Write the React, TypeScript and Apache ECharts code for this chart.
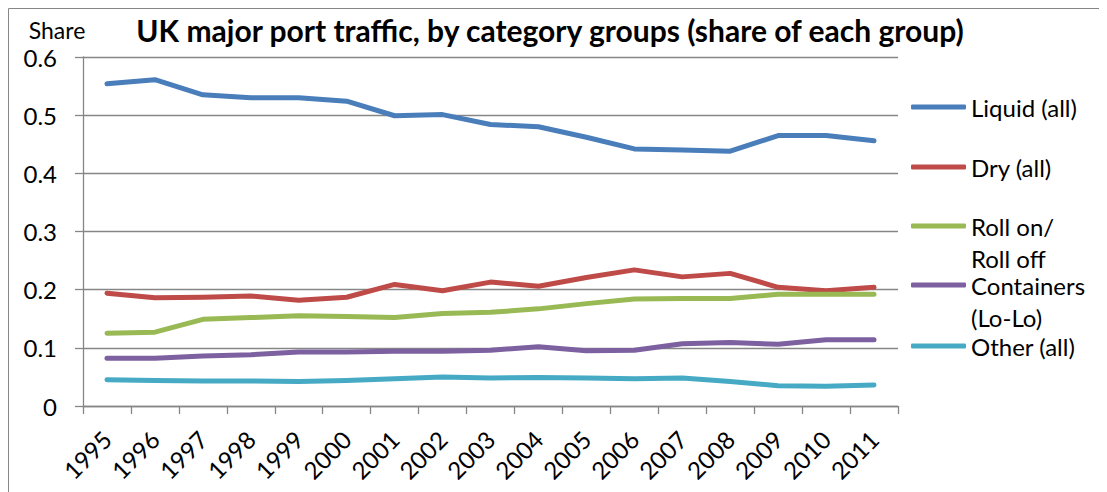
import React, { useEffect, useRef } from "react";
import * as echarts from "echarts";

const years = ["1995","1996","1997","1998","1999","2000","2001","2002","2003","2004","2005","2006","2007","2008","2009","2010","2011"];
const liquid = [0.554,0.561,0.535,0.530,0.530,0.524,0.499,0.501,0.484,0.480,0.462,0.442,0.440,0.438,0.465,0.465,0.456];
const dry = [0.194,0.186,0.187,0.189,0.182,0.187,0.209,0.198,0.213,0.206,0.221,0.234,0.222,0.228,0.204,0.198,0.204];
const roro = [0.125,0.127,0.149,0.152,0.155,0.154,0.152,0.159,0.161,0.167,0.176,0.184,0.185,0.185,0.192,0.192,0.192];
const containers = [0.082,0.082,0.086,0.088,0.093,0.093,0.094,0.094,0.096,0.102,0.095,0.096,0.107,0.109,0.106,0.114,0.114];
const other = [0.045,0.044,0.043,0.043,0.042,0.044,0.047,0.050,0.048,0.049,0.048,0.047,0.048,0.042,0.035,0.034,0.036];

const seriesNames = ["Liquid (all)", "Dry (all)", "Roll on/\nRoll off", "Containers\n(Lo-Lo)", "Other (all)"];
const seriesData = [liquid, dry, roro, containers, other];
const colors = ["#4A7EBB", "#BE4B48", "#98B954", "#7D60A0", "#46AAC5"];
const legendTops = [83, 143, 170, 229, 322];

const FONT = "Lato, 'Open Sans', sans-serif";
const GRAY = "#868686";

export default function App() {
  const ref = useRef<HTMLDivElement>(null);
  useEffect(() => {
    if (!ref.current) return;
    const chart = echarts.init(ref.current, undefined, { renderer: "svg" });
    const legends = seriesNames.map((name, i) => {
      const multi = name.includes("\n");
      return {
        orient: "vertical",
        left: 903,
        top: legendTops[i],
        padding: 0,
        itemWidth: 55,
        itemHeight: 5,
        icon: "roundRect",
        selectedMode: false,
        data: [name],
        formatter: (n: string) => (multi ? "\n" + n : n),
        textStyle: { fontFamily: FONT, fontSize: 24, color: "#000", lineHeight: 32 },
      };
    });
    chart.setOption({
      animation: false,
      color: colors,
      textStyle: { fontFamily: FONT },
      title: {
        text: "UK major port traffic, by category groups (share of each group)",
        left: 542,
        top: 7,
        textAlign: "center",
        padding: 0,
        textStyle: { fontFamily: FONT, fontSize: 30, fontWeight: "bold", color: "#000" },
      },
      legend: legends,
      graphic: [
        { type: "line", shape: { x1: 0.5, y1: 0.5, x2: 1099, y2: 0.5 }, style: { stroke: GRAY, lineWidth: 1 } },
        { type: "line", shape: { x1: 0.5, y1: 0.5, x2: 0.5, y2: 484 }, style: { stroke: GRAY, lineWidth: 1 } },
      ],
      grid: { left: 75, top: 49, width: 815, height: 349, containLabel: false },
      xAxis: {
        type: "category",
        data: years,
        boundaryGap: true,
        axisLine: { lineStyle: { color: GRAY, width: 1.3 } },
        axisTick: { show: true, length: 8, alignWithLabel: false, lineStyle: { color: GRAY, width: 1.3 } },
        axisLabel: { interval: 0, rotate: 45, margin: 29, fontSize: 24, fontFamily: FONT, color: "#000" },
      },
      yAxis: {
        type: "value",
        min: 0,
        max: 0.6,
        interval: 0.1,
        name: "Share",
        nameLocation: "end",
        nameGap: 16,
        nameTextStyle: { fontFamily: FONT, fontSize: 23, lineHeight: 22, color: "#000", padding: [0, 52, 0, 0] },
        axisLine: { show: true, lineStyle: { color: GRAY, width: 1.3 } },
        axisTick: { show: true, length: 8, lineStyle: { color: GRAY, width: 1.3 } },
        axisLabel: { margin: 26, fontSize: 24, lineHeight: 22, fontFamily: FONT, color: "#000" },
        splitLine: { show: true, lineStyle: { color: GRAY, width: 1.3 } },
      },
      series: seriesNames.map((name, i) => ({
        type: "line",
        name,
        data: seriesData[i],
        symbol: "none",
        showSymbol: false,
        lineStyle: { width: 5, color: colors[i], cap: "round", join: "round" },
        itemStyle: { color: colors[i] },
      })),
    });
    return () => chart.dispose();
  }, []);
  return <div ref={ref} style={{ width: 1099, height: 484 }} />;
}
